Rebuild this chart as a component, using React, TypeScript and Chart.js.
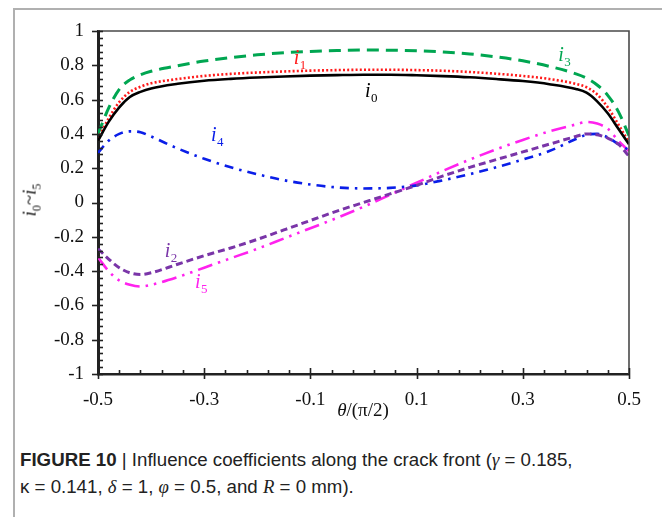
import React, { useEffect, useRef } from "react";
import { Chart, registerables } from "chart.js";

Chart.register(...registerables);

// ---- data ----
const THETA = [-0.5, -0.48, -0.46, -0.44, -0.42, -0.4, -0.35, -0.3, -0.25, -0.2, -0.15, -0.1, -0.05, 0, 0.05, 0.1, 0.15, 0.2, 0.25, 0.3, 0.35, 0.4, 0.42, 0.44, 0.46, 0.48, 0.5];
const I0 = [0.36, 0.47, 0.555, 0.615, 0.645, 0.665, 0.692, 0.71, 0.721, 0.729, 0.735, 0.74, 0.743, 0.745, 0.745, 0.742, 0.737, 0.73, 0.72, 0.708, 0.69, 0.662, 0.64, 0.59, 0.52, 0.43, 0.34];
const I1 = [0.37, 0.49, 0.585, 0.645, 0.675, 0.695, 0.72, 0.738, 0.75, 0.758, 0.764, 0.769, 0.772, 0.774, 0.774, 0.772, 0.768, 0.761, 0.751, 0.738, 0.72, 0.692, 0.672, 0.63, 0.555, 0.455, 0.35];
const I2 = [-0.27, -0.33, -0.38, -0.41, -0.42, -0.41, -0.36, -0.31, -0.265, -0.215, -0.16, -0.105, -0.05, 0.0, 0.05, 0.1, 0.155, 0.205, 0.25, 0.295, 0.34, 0.385, 0.4, 0.395, 0.375, 0.34, 0.27];
const I3 = [0.4, 0.55, 0.66, 0.715, 0.745, 0.765, 0.797, 0.825, 0.845, 0.861, 0.873, 0.881, 0.886, 0.889, 0.888, 0.885, 0.878, 0.866, 0.849, 0.826, 0.794, 0.75, 0.725, 0.685, 0.625, 0.53, 0.39];
const I4 = [0.29, 0.36, 0.4, 0.415, 0.41, 0.385, 0.315, 0.255, 0.205, 0.165, 0.13, 0.105, 0.088, 0.082, 0.085, 0.1, 0.13, 0.165, 0.205, 0.25, 0.3, 0.37, 0.395, 0.4, 0.38, 0.34, 0.305];
const I5 = [-0.32, -0.4, -0.455, -0.48, -0.49, -0.48, -0.435, -0.38, -0.325, -0.27, -0.21, -0.15, -0.09, -0.025, 0.045, 0.115, 0.185, 0.25, 0.31, 0.365, 0.415, 0.455, 0.47, 0.46, 0.43, 0.36, 0.3];

const X_TICKS = [-0.5, -0.3, -0.1, 0.1, 0.3, 0.5];
const Y_TICKS = [-1, -0.8, -0.6, -0.4, -0.2, 0, 0.2, 0.4, 0.6, 0.8, 1];
const MINOR_STEP = 0.04;

// curve labels: subscript index and anchor in data coordinates
const LABEL_SUB = ["0", "1", "2", "3", "4", "5"];
const LABEL_X = [0.014, -0.12, -0.363, 0.378, -0.276, -0.306];
const LABEL_Y = [0.63, 0.825, -0.3, 0.84, 0.375, -0.48];

const COLORS = ["#000000", "#ff1a1a", "#7a35a8", "#00a651", "#0a1ee8", "#ff22ee"];

const SERIF = "'Liberation Serif', 'Times New Roman', serif";

const toPoints = (ys: number[]) => THETA.map((x, k) => ({ x, y: ys[k] }));

const decorPlugin = {
  id: "decor",
  afterDraw(chart: any) {
    const { ctx, chartArea, scales } = chart;
    const { left, right, top, bottom } = chartArea;
    const xs = scales.x;
    const ys = scales.y;
    ctx.save();
    // top and right frame
    ctx.strokeStyle = "#4a4a4a";
    ctx.lineWidth = 1.6;
    ctx.beginPath();
    ctx.moveTo(left, top);
    ctx.lineTo(right, top);
    ctx.lineTo(right, bottom);
    ctx.stroke();

    // ticks
    ctx.strokeStyle = "#222";
    ctx.lineWidth = 1.6;
    const nx = Math.round((xs.max - xs.min) / MINOR_STEP);
    for (let k = 0; k <= nx; k++) {
      const v = xs.min + k * MINOR_STEP;
      const p = Math.round(xs.getPixelForValue(v)) + 0.5;
      const major = k % 5 === 0;
      ctx.beginPath();
      ctx.moveTo(p, bottom - (major ? 6 : 4));
      ctx.lineTo(p, bottom + (major ? 5 : 0));
      ctx.stroke();
    }
    const ny = Math.round((ys.max - ys.min) / MINOR_STEP);
    for (let k = 0; k <= ny; k++) {
      const v = ys.min + k * MINOR_STEP;
      const p = Math.round(ys.getPixelForValue(v)) + 0.5;
      const major = k % 5 === 0;
      ctx.beginPath();
      ctx.moveTo(left - (major ? 6 : 0), p);
      ctx.lineTo(left + 5, p);
      ctx.stroke();
    }

    // curve labels
    ctx.textBaseline = "alphabetic";
    for (let k = 0; k < LABEL_SUB.length; k++) {
      const px = xs.getPixelForValue(LABEL_X[k]);
      const py = ys.getPixelForValue(LABEL_Y[k]);
      ctx.fillStyle = COLORS[k];
      ctx.font = `italic 20px ${SERIF}`;
      const wi = ctx.measureText("i").width;
      ctx.font = `13px ${SERIF}`;
      const ws = ctx.measureText(LABEL_SUB[k]).width;
      const x0 = px - (wi + ws) / 2;
      ctx.font = `italic 20px ${SERIF}`;
      ctx.fillText("i", x0, py + 3);
      ctx.font = `13px ${SERIF}`;
      ctx.fillText(LABEL_SUB[k], x0 + wi + 0.5, py + 8);
    }
    ctx.restore();
  },
};

export default function App() {
  const ref = useRef<HTMLCanvasElement>(null);

  useEffect(() => {
    const fmt = (v: number) => String(Math.round(v * 10) / 10);
    const chart = new Chart(ref.current as HTMLCanvasElement, {
      type: "line",
      data: {
        datasets: [
          { label: "i0", data: toPoints(I0), borderColor: COLORS[0], borderWidth: 2.6, borderDash: [] },
          { label: "i1", data: toPoints(I1), borderColor: COLORS[1], borderWidth: 2.6, borderDash: [2, 2.2] },
          { label: "i2", data: toPoints(I2), borderColor: COLORS[2], borderWidth: 3, borderDash: [7, 4] },
          { label: "i3", data: toPoints(I3), borderColor: COLORS[3], borderWidth: 3, borderDash: [12, 7] },
          { label: "i4", data: toPoints(I4), borderColor: COLORS[4], borderWidth: 2.6, borderDash: [9, 6, 2.5, 6] },
          { label: "i5", data: toPoints(I5), borderColor: COLORS[5], borderWidth: 2.6, borderDash: [15, 6, 2.5, 6, 2.5, 6] },
        ].map((d) => ({
          ...d,
          pointRadius: 0,
          fill: false,
          cubicInterpolationMode: "monotone" as const,
          borderCapStyle: "butt" as const,
        })),
      },
      options: {
        animation: false,
        responsive: false,
        events: [],
        layout: { padding: { left: 0, right: 33, top: 31, bottom: 0 } },
        plugins: { legend: { display: false }, tooltip: { enabled: false } },
        scales: {
          x: {
            type: "linear",
            min: -0.5,
            max: 0.5,
            afterBuildTicks: (s: any) => {
              s.ticks = X_TICKS.map((value) => ({ value }));
            },
            afterFit: (s: any) => {
              s.height = 66;
            },
            grid: { display: false, drawTicks: false },
            border: { display: true, color: "#222", width: 2.4 },
            ticks: {
              callback: (v: any) => fmt(Number(v)),
              font: { family: SERIF, size: 19 },
              color: "#111",
              padding: 15,
              maxRotation: 0,
              autoSkip: false,
            },
          },
          y: {
            type: "linear",
            min: -1,
            max: 1,
            afterBuildTicks: (s: any) => {
              s.ticks = Y_TICKS.map((value) => ({ value }));
            },
            afterFit: (s: any) => {
              s.width = 98;
            },
            grid: { display: false, drawTicks: false },
            border: { display: true, color: "#222", width: 3 },
            ticks: {
              callback: (v: any) => fmt(Number(v)),
              font: { family: SERIF, size: 19 },
              color: "#111",
              padding: 14,
              autoSkip: false,
            },
          },
        },
      },
      plugins: [decorPlugin],
    } as any);
    return () => chart.destroy();
  }, []);

  const greek: React.CSSProperties = { fontFamily: SERIF, fontStyle: "italic" };

  return (
    <div style={{ position: "absolute", left: 0, top: 0, width: 662, height: 517, background: "#fff", overflow: "hidden" }}>
      <div
        style={{
          position: "absolute",
          left: 13,
          top: 8,
          width: 660,
          height: 520,
          borderTop: "2px solid #b0b0b0",
          borderLeft: "2px solid #b0b0b0",
        }}
      />
      <canvas ref={ref} width={662} height={440} style={{ position: "absolute", left: 0, top: 0, display: "block" }} />
      {/* y-axis title */}
      <div
        style={{
          position: "absolute",
          left: 33,
          top: 200,
          transform: "translate(-50%, -50%) rotate(-90deg)",
          whiteSpace: "nowrap",
          fontFamily: SERIF,
          fontSize: 19,
          color: "#111",
          lineHeight: "20px",
        }}
      >
        <i>i</i>
        <sub style={{ fontSize: 12 }}>0</sub>~<i>i</i>
        <sub style={{ fontSize: 12 }}>5</sub>
      </div>
      {/* x-axis title */}
      <div
        style={{
          position: "absolute",
          left: 363,
          top: 410,
          transform: "translate(-50%, -50%)",
          whiteSpace: "nowrap",
          fontFamily: SERIF,
          fontSize: 19,
          color: "#111",
          lineHeight: "22px",
        }}
      >
        <i>θ</i>/(π/2)
      </div>
      {/* caption */}
      <div
        style={{
          position: "absolute",
          left: 20,
          top: 446,
          whiteSpace: "nowrap",
          fontFamily: "'Liberation Sans', Arial, sans-serif",
          fontSize: 18.7,
          lineHeight: "27px",
          color: "#222",
        }}
      >
        <div>
          <b>FIGURE 10</b> | Influence coefficients along the crack front (<span style={greek}>γ</span> = 0.185,
        </div>
        <div>
          κ = 0.141, <span style={greek}>δ</span> = 1, <span style={greek}>φ</span> = 0.5, and <span style={greek}>R</span> = 0 mm).
        </div>
      </div>
    </div>
  );
}
